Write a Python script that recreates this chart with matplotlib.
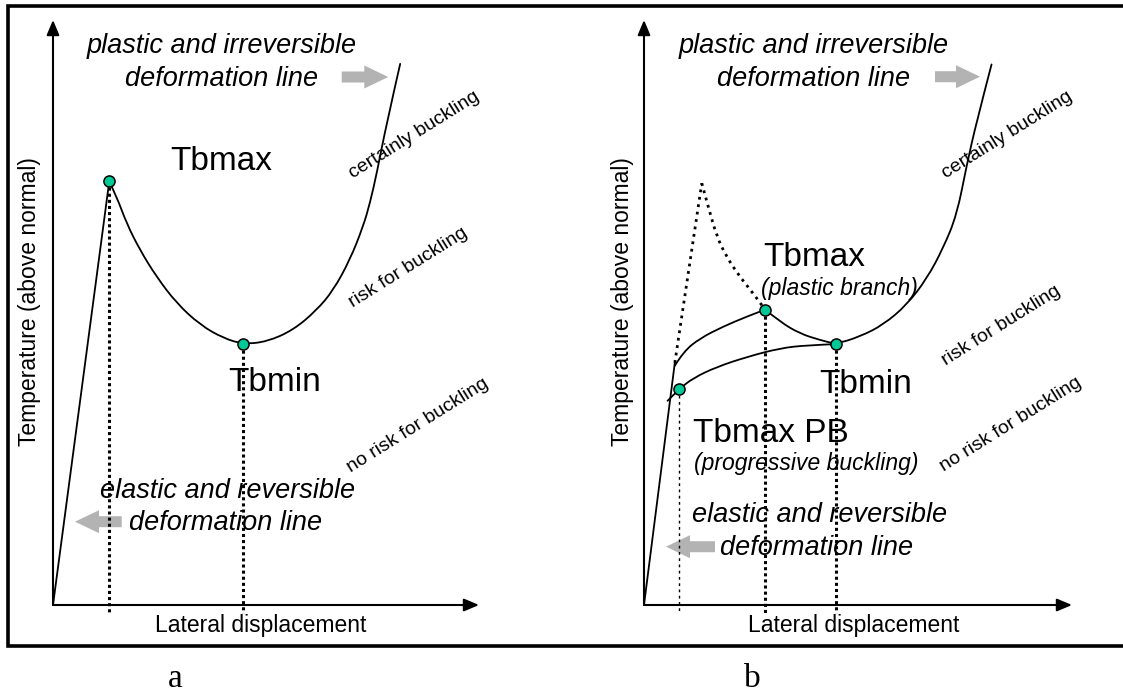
import matplotlib
matplotlib.use("Agg")
import matplotlib.pyplot as plt
from matplotlib.path import Path
from matplotlib.patches import PathPatch, FancyArrow

plt.rcParams['font.family'] = ['Liberation Sans', 'DejaVu Sans']

# ---------------- data (schematic units: 0..100 along each axis) ----------------
# Panel a
a_elastic_x = [0, 13.2]
a_elastic_y = [0, 72.4]
a_curve_x = [13.2, 14.95, 17.3, 20.4, 24.3, 29.0, 34.5, 40.0, 44.7, 50.2, 56.4,
             61.9, 65.8, 69.7, 72.8, 74.4, 76.0, 78.3, 81.5]
a_curve_y = [72.4, 69.8, 65.2, 60.7, 56.1, 51.6, 47.9, 45.6, 44.6, 45.0, 47.0,
             50.4, 53.8, 59.0, 64.7, 68.7, 73.8, 82.3, 92.5]
a_points_x = [13.2, 44.7]
a_points_y = [72.4, 44.6]

# Panel b
b_elastic_x = [0, 7.2]
b_elastic_y = [0, 41.4]
b_dot_up_x = [7.2, 13.5]
b_dot_up_y = [41.4, 72.1]
b_dot_down_x = [13.5, 15.0, 17.0, 19.3, 22.4, 25.5, 28.3]
b_dot_down_y = [72.1, 68.1, 63.0, 59.5, 56.1, 53.3, 50.5]
b_upper_x = [7.2, 9.2, 13.1, 18.5, 24.0, 28.3]
b_upper_y = [40.9, 43.3, 45.6, 47.6, 49.3, 50.5]
b_main_x = [28.3, 31.8, 36.4, 41.1, 44.9, 50.5, 55.9, 61.4, 66.1, 69.9, 73.1,
            75.4, 77.7, 81.2]
b_main_y = [50.5, 48.4, 46.4, 45.3, 44.6, 45.9, 47.9, 51.3, 55.8, 61.0, 66.7,
            75.2, 82.6, 92.4]
b_lower_x = [5.5, 8.2, 11.5, 17.0, 24.0, 31.8, 38.0, 44.9]
b_lower_y = [34.9, 36.9, 38.8, 40.7, 42.4, 43.9, 44.4, 44.6]
b_points_x = [8.2, 28.3, 44.9]
b_points_y = [36.9, 50.5, 44.6]

drop_bottom = -1.4

MARK = '#00c896'
SANS = ['Liberation Sans', 'DejaVu Sans']
SERIF = ['Liberation Serif', 'DejaVu Serif']


def smooth_path(xs, ys):
    pts = list(zip(xs, ys))
    n = len(pts)
    verts = [pts[0]]
    codes = [Path.MOVETO]
    if n == 2:
        verts.append(pts[1]); codes.append(Path.LINETO)
        return Path(verts, codes)
    for i in range(1, n - 2):
        mid = ((pts[i][0] + pts[i + 1][0]) / 2, (pts[i][1] + pts[i + 1][1]) / 2)
        verts += [pts[i], mid]
        codes += [Path.CURVE3, Path.CURVE3]
    verts += [pts[n - 2], pts[n - 1]]
    codes += [Path.CURVE3, Path.CURVE3]
    return Path(verts, codes)


W, H = 1123, 693
fig = plt.figure(figsize=(W / 100, H / 100), dpi=100)


def panel(left_px, right_px):
    bottom_px, top_px = 605, 20
    ax = fig.add_axes([left_px / W, (H - bottom_px) / H,
                       (right_px - left_px) / W, (bottom_px - top_px) / H])
    ax.set_xlim(0, 100)
    ax.set_ylim(0, 100)
    ax.axis('off')
    arrow = dict(arrowstyle='-|>,head_length=0.9,head_width=0.38', mutation_scale=10,
                 lw=1.5, color='black', shrinkA=0, shrinkB=0)
    ax.annotate('', xy=(100, 0), xytext=(0, 0), arrowprops=arrow, annotation_clip=False)
    ax.annotate('', xy=(0, 100), xytext=(0, 0), arrowprops=arrow, annotation_clip=False)
    return ax


def curve(ax, xs, ys, **kw):
    p = PathPatch(smooth_path(xs, ys), facecolor='none', edgecolor='black',
                  joinstyle='round', clip_on=False, **kw)
    ax.add_patch(p)


dots = (0, (1, 1))
fine_dots = (0, (1, 1.7))

# ---- panel a ----
axa = panel(53, 479)
axa.plot(a_elastic_x, a_elastic_y, color='black', lw=1.3, clip_on=False)
curve(axa, a_curve_x, a_curve_y, lw=1.3, capstyle='round')
for x, y in zip(a_points_x, a_points_y):
    axa.plot([x, x], [y, drop_bottom], color='black', lw=2.2, linestyle=dots, clip_on=False)
axa.plot(a_points_x, a_points_y, 'o', ms=8, mfc=MARK, mec='black', mew=1.1,
         zorder=5, clip_on=False)

# ---- panel b ----
axb = panel(644, 1072)
axb.plot(b_elastic_x, b_elastic_y, color='black', lw=1.3, clip_on=False)
axb.plot(b_dot_up_x, b_dot_up_y, color='black', lw=2, linestyle=fine_dots, clip_on=False)
curve(axb, b_dot_down_x, b_dot_down_y, lw=2, linestyle=fine_dots)
curve(axb, b_upper_x, b_upper_y, lw=1.3, capstyle='round')
curve(axb, b_main_x, b_main_y, lw=1.3, capstyle='round')
curve(axb, b_lower_x, b_lower_y, lw=1.3, capstyle='round')
axb.plot([b_points_x[0]] * 2, [b_points_y[0], drop_bottom], color='black', lw=1,
         linestyle=(0, (2, 2.5)), clip_on=False)
for x, y in zip(b_points_x[1:], b_points_y[1:]):
    axb.plot([x, x], [y, drop_bottom], color='black', lw=2.2, linestyle=dots, clip_on=False)
axb.plot(b_points_x, b_points_y, 'o', ms=8, mfc=MARK, mec='black', mew=1.1,
         zorder=5, clip_on=False)

# ---- overlay (pixel coordinates) for frame, text and block arrows ----
ov = fig.add_axes([0, 0, 1, 1], zorder=-1)
ov.set_xlim(0, W)
ov.set_ylim(H, 0)
ov.axis('off')

# outer frame
ov.plot([W + 5, 7.5, 7.5, W + 5], [5.5, 5.5, 646, 646], color='black', lw=2.6,
        solid_joinstyle='miter', clip_on=False)

GRAY = '#b3b3b3'


def block_arrow(x0, x1, y):
    ov.add_patch(FancyArrow(x0, y, x1 - x0, 0, width=11, head_width=23,
                            head_length=24, length_includes_head=True,
                            color=GRAY, lw=0))


def txt(x, y, s, size, style='normal', **kw):
    ov.text(x, y, s, fontsize=size, fontstyle=style, ha='center', va='baseline',
            family=SANS, **kw)


# panel a texts
txt(222, 53, 'plastic and irreversible', 19.5, 'italic')
txt(222, 86, 'deformation line', 19.5, 'italic')
block_arrow(341.7, 388.3, 77)
txt(221, 170.5, 'Tbmax', 24)
txt(275, 391, 'Tbmin', 24)
txt(227.5, 498.3, 'elastic and reversible', 19.5, 'italic')
txt(226, 530, 'deformation line', 19.5, 'italic')
block_arrow(121.7, 75, 521.7)
txt(261, 631.7, 'Lateral displacement', 16.5)
ov.text(29.5, 302, 'Temperature (above normal)', fontsize=16.5, rotation=90,
        ha='center', va='center', family=SANS)
for (cx, cy, s) in [(414, 135, 'certainly buckling'), (408, 268, 'risk for buckling'),
                    (418, 425, 'no risk for buckling')]:
    ov.text(cx, cy, s, fontsize=14, rotation=32, rotation_mode='anchor',
            ha='center', va='center', family=SANS)

# panel b texts
txt(814, 53, 'plastic and irreversible', 19.5, 'italic')
txt(814, 86, 'deformation line', 19.5, 'italic')
block_arrow(935, 980, 76.7)
txt(814, 266.5, 'Tbmax', 24)
txt(839, 294.5, '(plastic branch)', 16.5, 'italic')
txt(866, 393, 'Tbmin', 24)
txt(771, 442, 'Tbmax PB', 24)
txt(806, 470, '(progressive buckling)', 16.5, 'italic')
txt(820, 522.5, 'elastic and reversible', 19.5, 'italic')
txt(817, 555, 'deformation line', 19.5, 'italic')
block_arrow(715, 666, 546.7)
txt(854, 631.7, 'Lateral displacement', 16.5)
ov.text(623, 302, 'Temperature (above normal)', fontsize=16.5, rotation=90,
        ha='center', va='center', family=SANS)
for (cx, cy, s) in [(1007, 135, 'certainly buckling'), (1001, 326, 'risk for buckling'),
                    (1011, 424, 'no risk for buckling')]:
    ov.text(cx, cy, s, fontsize=14, rotation=32, rotation_mode='anchor',
            ha='center', va='center', family=SANS)

# sub-figure letters
ov.text(175, 687, 'a', fontsize=24, ha='center', va='baseline', family=SERIF)
ov.text(752, 687, 'b', fontsize=24, ha='center', va='baseline', family=SERIF)

fig.savefig('out.png', dpi=100, facecolor='white')
